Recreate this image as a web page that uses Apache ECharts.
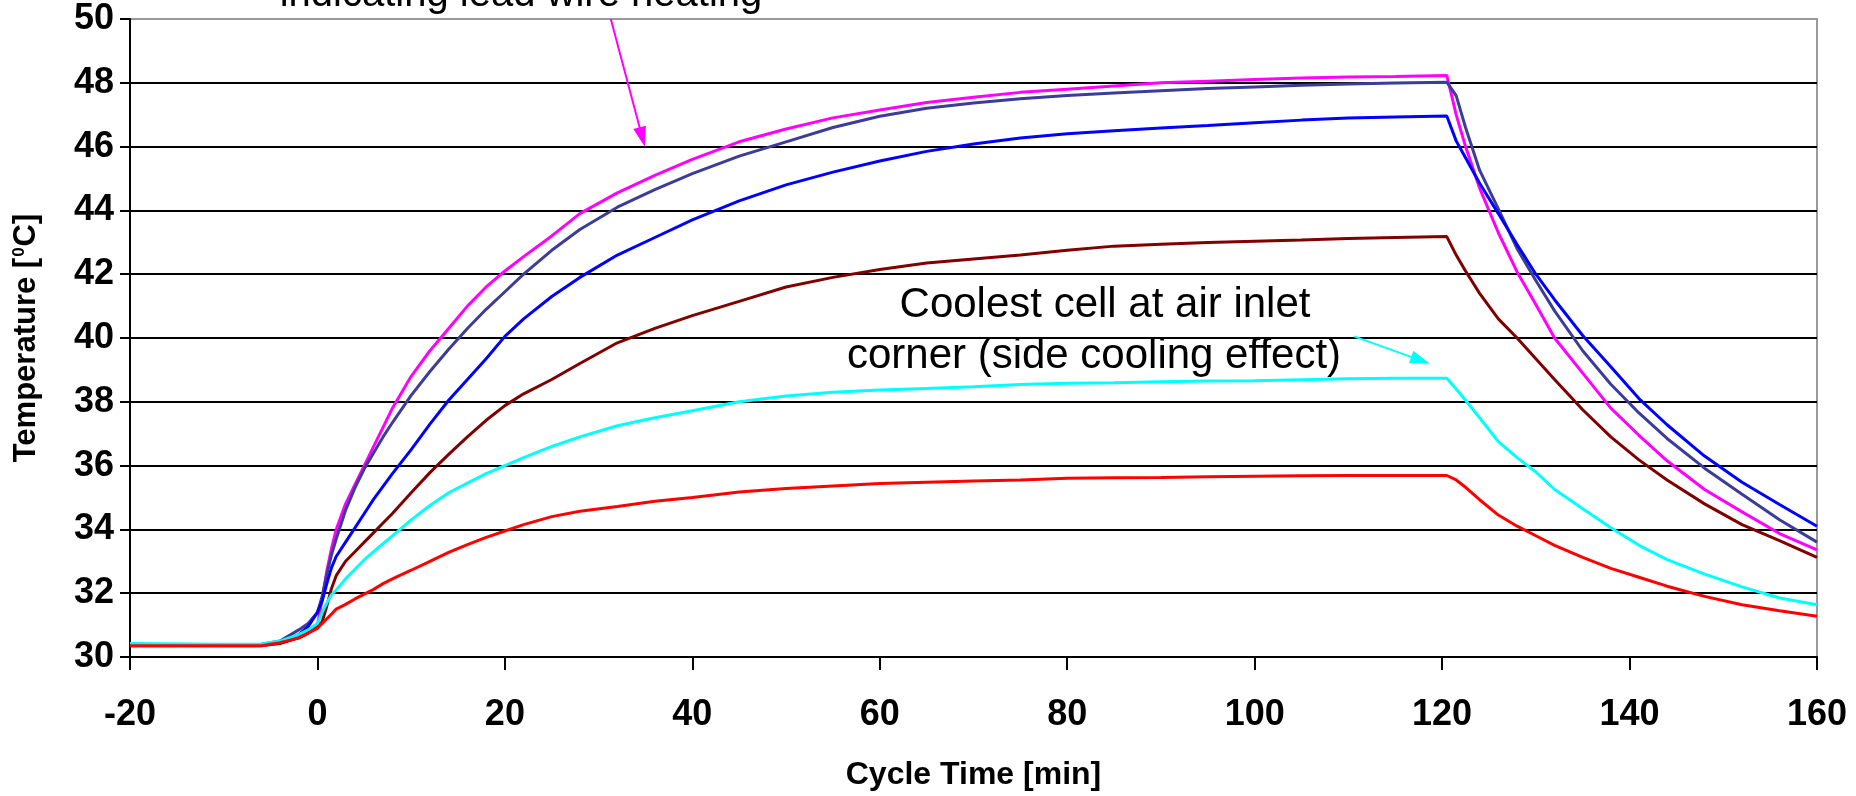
<!DOCTYPE html>
<html>
<head>
<meta charset="utf-8">
<script src="https://cdn.jsdelivr.net/npm/echarts@6/dist/echarts.min.js"></script>
<style>
html,body{margin:0;padding:0;background:#fff;}
#chart{width:1856px;height:796px;}
</style>
</head>
<body>
<div id="chart"></div>
<script>
// Cycle time [min]
const minutes = [-20,-10,-6,-4,-2,-1,0,0.5,1,1.5,2,3,4,5,6,7,8,10,12,14,16,18,20,22,25,28,32,36,40,45,50,55,60,65,70,75,80,85,90,95,100,105,110,115,120.5,121.5,122.5,124,126,128,130,132,135,138,141,144,148,152,156,160];

// Temperatures [°C]
const magentaCell = [30.40,30.38,30.38,30.45,30.6,30.75,31.0,31.8,32.7,33.4,34.0,34.8,35.4,36.0,36.6,37.2,37.8,38.8,39.6,40.3,41.0,41.6,42.1,42.55,43.2,43.9,44.55,45.1,45.6,46.15,46.55,46.9,47.15,47.38,47.55,47.7,47.8,47.9,48.0,48.05,48.1,48.15,48.18,48.2,48.23,47.0,46.0,44.7,43.3,42.07,41.05,40.0,38.9,37.8,36.95,36.15,35.25,34.55,33.87,33.36];
const navyCell = [30.38,30.38,30.4,30.5,30.85,31.05,31.4,31.9,32.6,33.2,33.7,34.6,35.3,35.9,36.4,36.9,37.35,38.2,38.95,39.65,40.3,40.9,41.45,42.0,42.75,43.4,44.1,44.65,45.15,45.7,46.15,46.6,46.95,47.2,47.37,47.5,47.6,47.68,47.75,47.82,47.87,47.92,47.96,47.99,48.02,47.6,46.6,45.26,44.05,42.8,41.8,40.85,39.6,38.55,37.65,36.85,35.92,35.1,34.3,33.6];
const blueCell = [30.38,30.38,30.38,30.45,30.7,30.95,31.4,31.75,32.3,32.8,33.15,33.6,34.05,34.5,34.95,35.35,35.75,36.5,37.3,38.05,38.7,39.35,40.05,40.6,41.3,41.9,42.6,43.15,43.7,44.3,44.8,45.2,45.55,45.85,46.08,46.27,46.4,46.5,46.58,46.66,46.75,46.83,46.9,46.93,46.96,46.18,45.65,44.85,43.9,42.93,42.0,41.2,40.08,39.1,38.1,37.28,36.3,35.48,34.78,34.1];
const maroonCell = [30.35,30.35,30.35,30.42,30.6,30.75,30.95,31.1,31.6,32.15,32.55,33.0,33.3,33.6,33.9,34.2,34.5,35.15,35.78,36.35,36.9,37.42,37.88,38.25,38.7,39.2,39.85,40.3,40.7,41.15,41.6,41.9,42.15,42.35,42.48,42.6,42.75,42.88,42.94,42.99,43.03,43.07,43.12,43.15,43.18,42.6,42.1,41.4,40.6,40.0,39.35,38.7,37.75,36.9,36.18,35.55,34.8,34.15,33.65,33.12];
const cyanCell = [30.42,30.4,30.4,30.5,30.7,30.85,31.05,31.4,31.7,31.95,32.1,32.45,32.75,33.05,33.3,33.55,33.8,34.3,34.75,35.15,35.45,35.75,36.0,36.25,36.6,36.9,37.25,37.5,37.72,38.0,38.18,38.3,38.37,38.42,38.47,38.54,38.58,38.6,38.63,38.65,38.66,38.69,38.72,38.74,38.74,38.4,38.05,37.5,36.75,36.25,35.8,35.25,34.65,34.05,33.5,33.05,32.6,32.2,31.85,31.64];
const redCell = [30.35,30.35,30.35,30.45,30.6,30.75,30.9,31.05,31.2,31.35,31.5,31.65,31.82,31.97,32.12,32.3,32.45,32.72,33.0,33.28,33.52,33.75,33.95,34.15,34.4,34.57,34.72,34.88,35.0,35.17,35.28,35.36,35.44,35.48,35.52,35.55,35.6,35.62,35.63,35.65,35.67,35.68,35.69,35.69,35.69,35.55,35.32,34.93,34.45,34.1,33.8,33.5,33.12,32.78,32.5,32.22,31.9,31.64,31.45,31.28];

// annotation arrows in data units [min, °C]
const hotArrow = [[31.3, 50.0], [34.65, 46.3]];
const coolArrow = [[110.6, 40.05], [117.7, 39.3]];

const FONT = '"Liberation Sans", Arial, Helvetica, sans-serif';
const TICKFONT = '"Liberation Sans Narrow", "Arial Narrow", "Liberation Sans", Arial, sans-serif';

function pairs(vals){ return minutes.map((m,i)=>[m, vals[i]]); }

function mkSeries(name, vals, color, arrow){
  const s = {
    name, type:'line', data: pairs(vals), showSymbol:false, symbol:'none',
    smooth:false, lineStyle:{color, width:3}, itemStyle:{color},
    animation:false, silent:true
  };
  if (arrow) {
    s.markLine = {
      silent:true, animation:false,
      symbol:['none','triangle'], symbolSize:[13,20],
      label:{show:false},
      lineStyle:{color, width:2, type:'solid'},
      data:[[{coord:arrow[0]},{coord:arrow[1]}]]
    };
  }
  return s;
}

const chart = echarts.init(document.getElementById('chart'), null, {renderer:'canvas'});
chart.setOption({
  animation:false,
  backgroundColor:'#fff',
  grid:{left:130, right:39, top:19, bottom:127, show:true, borderColor:'#999', borderWidth:2, backgroundColor:'transparent'},
  xAxis:{
    type:'value', min:-20, max:160, interval:20,
    name:'Cycle Time [min]', nameLocation:'middle', nameGap:102,
    nameTextStyle:{fontFamily:FONT, fontWeight:'bold', fontSize:32, color:'#000'},
    axisLine:{show:true, onZero:false, lineStyle:{color:'#000', width:2}},
    axisTick:{show:true, length:13, lineStyle:{color:'#000', width:2}},
    axisLabel:{fontFamily:TICKFONT, fontWeight:'bold', fontSize:36, color:'#000', margin:40},
    splitLine:{show:false}
  },
  yAxis:{
    type:'value', min:30, max:50, interval:2,
    name:'Temperature [{sup|0}C]', nameLocation:'middle', nameGap:88,
    nameTextStyle:{fontFamily:FONT, fontWeight:'bold', fontSize:31, color:'#000',
      rich:{sup:{fontFamily:FONT, fontSize:17, color:'#000', verticalAlign:'top', padding:[0,1,12,1]}}},
    axisLine:{show:true, onZero:false, lineStyle:{color:'#000', width:2}},
    axisTick:{show:true, length:10, lineStyle:{color:'#000', width:2}},
    axisLabel:{fontFamily:TICKFONT, fontWeight:'bold', fontSize:36, color:'#000', margin:16},
    splitLine:{show:true, showMinLine:false, showMaxLine:false, lineStyle:{color:'#000', width:2}}
  },
  series:[
    mkSeries('magenta', magentaCell, '#FF00FF', hotArrow),
    mkSeries('navy', navyCell, '#3C3C99'),
    mkSeries('blue', blueCell, '#0000FF'),
    mkSeries('maroon', maroonCell, '#800000'),
    mkSeries('cyan', cyanCell, '#00FFFF', coolArrow),
    mkSeries('red', redCell, '#FF0000')
  ],
  graphic:[
    {type:'text', x:521, y:-5, silent:true, style:{text:'indicating lead wire heating', font:'40px '+FONT, fill:'#000', align:'center', verticalAlign:'middle'}},
    {type:'text', x:1105, y:305, silent:true, style:{text:'Coolest cell at air inlet', font:'42px '+FONT, fill:'#000', align:'center', verticalAlign:'middle'}},
    {type:'text', x:1094, y:356, silent:true, style:{text:'corner (side cooling effect)', font:'42px '+FONT, fill:'#000', align:'center', verticalAlign:'middle'}}
  ]
});
</script>
</body>
</html>
